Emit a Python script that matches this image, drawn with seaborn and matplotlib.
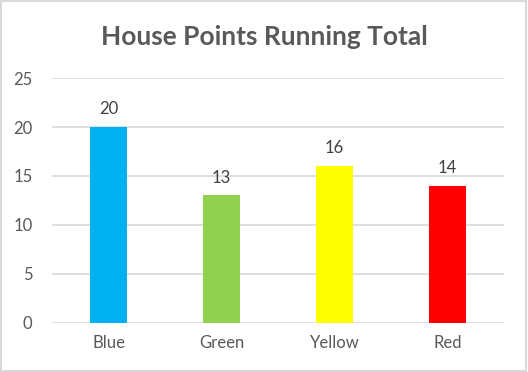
import pandas as pd
import matplotlib.pyplot as plt
import seaborn as sns
from matplotlib.patches import Rectangle

# Data
houses = ['Blue', 'Green', 'Yellow', 'Red']
points = [20, 13, 16, 14]
colours = ['#00B0F0', '#92D050', '#FFFF00', '#FF0000']

df = pd.DataFrame({'House': houses, 'Points': points})

sns.set_theme(style='white')
plt.rcParams['font.family'] = ['Lato', 'DejaVu Sans']

fig = plt.figure(figsize=(5.28, 3.72), dpi=100)
ax = fig.add_axes([0.0985, 0.133, 0.856, 0.657])

sns.barplot(data=df, x='House', y='Points', hue='House', palette=colours,
            width=0.32, legend=False, saturation=1, linewidth=0, ax=ax)

ax.set_ylim(0, 25)
ax.set_yticks(range(0, 26, 5))
ax.yaxis.grid(True, color='#D9D9D9', linewidth=1.2)
ax.set_axisbelow(True)
for s in ax.spines.values():
    s.set_visible(False)
ax.tick_params(axis='both', length=0, labelsize=12, colors='#595959')
ax.tick_params(axis='y', pad=14)
ax.tick_params(axis='x', pad=9)
ax.set_xlabel('')
ax.set_ylabel('')

# value labels
for c in ax.containers:
    ax.bar_label(c, padding=7, fontsize=12, color='#404040')

fig.text(0.5, 0.9, 'House Points Running Total', ha='center', va='center',
         fontsize=19, fontweight='bold', color='#595959')

# light border round the chart
fig.patches.append(Rectangle((0.002, 0.003), 0.995, 0.994, transform=fig.transFigure,
                             fill=False, edgecolor='#D9D9D9', linewidth=1.5))

fig.savefig('out.png', dpi=100)
